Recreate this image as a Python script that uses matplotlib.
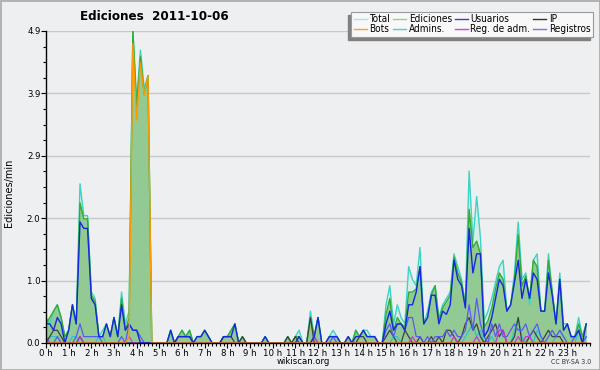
import numpy as np
import matplotlib
matplotlib.use("Agg")
import matplotlib.pyplot as plt
from matplotlib.lines import Line2D
from matplotlib.patches import Rectangle
from matplotlib.ticker import FixedLocator, MultipleLocator

plt.rcParams["font.family"] = ["DejaVu Sans"]
plt.rcParams["font.stretch"] = "condensed"

# edits per minute, 10-minute bins (6 per hour, one row per hour)
total = [
    0.4, 0.3, 0.5, 0.6, 0.4, 0.1,
    0.2, 0.6, 0.3, 2.5, 2.0, 2.0,
    0.8, 0.7, 0.1, 0.2, 0.3, 0.1,
    0.4, 0.1, 0.8, 0.3, 0.5, 4.9,
    3.8, 4.6, 4.0, 4.2, 0.0, 0.0,
    0.0, 0.0, 0.0, 0.2, 0.0, 0.1,
    0.2, 0.1, 0.2, 0.0, 0.1, 0.1,
    0.2, 0.1, 0.0, 0.0, 0.0, 0.1,
    0.1, 0.2, 0.3, 0.0, 0.1, 0.0,
    0.0, 0.0, 0.0, 0.0, 0.1, 0.0,
    0.0, 0.0, 0.0, 0.0, 0.1, 0.0,
    0.1, 0.2, 0.0, 0.0, 0.5, 0.1,
    0.4, 0.0, 0.0, 0.1, 0.2, 0.1,
    0.0, 0.0, 0.1, 0.0, 0.2, 0.1,
    0.2, 0.2, 0.1, 0.1, 0.0, 0.0,
    0.6, 0.9, 0.3, 0.6, 0.4, 0.3,
    1.2, 1.0, 0.9, 1.5, 0.3, 0.5,
    0.8, 0.9, 0.4, 0.6, 0.7, 0.8,
    1.4, 1.2, 1.0, 0.6, 2.7, 1.6,
    2.3, 1.65, 0.35, 0.5, 0.7, 0.95,
    1.2, 1.3, 0.5, 0.6, 1.1, 1.9,
    1.0, 1.1, 0.6, 1.3, 1.4, 0.5,
    0.5, 1.4, 0.8, 0.3, 1.1, 0.3,
    0.3, 0.1, 0.1, 0.4, 0.1, 0.3,
]
ediciones = [
    0.3, 0.4, 0.5, 0.6, 0.4, 0.1,
    0.2, 0.6, 0.3, 2.2, 1.95, 1.95,
    0.75, 0.65, 0.1, 0.1, 0.3, 0.1,
    0.4, 0.1, 0.7, 0.2, 0.4, 4.9,
    3.7, 4.5, 3.9, 4.2, 0.0, 0.0,
    0.0, 0.0, 0.0, 0.2, 0.0, 0.1,
    0.2, 0.1, 0.2, 0.0, 0.1, 0.1,
    0.2, 0.1, 0.0, 0.0, 0.0, 0.1,
    0.1, 0.2, 0.3, 0.0, 0.1, 0.0,
    0.0, 0.0, 0.0, 0.0, 0.1, 0.0,
    0.0, 0.0, 0.0, 0.0, 0.1, 0.0,
    0.1, 0.1, 0.0, 0.0, 0.4, 0.1,
    0.4, 0.0, 0.0, 0.1, 0.1, 0.1,
    0.0, 0.0, 0.1, 0.0, 0.2, 0.1,
    0.2, 0.1, 0.1, 0.1, 0.0, 0.0,
    0.45, 0.7, 0.2, 0.4, 0.3, 0.25,
    0.8, 0.8, 0.85, 1.2, 0.3, 0.4,
    0.75, 0.9, 0.35, 0.55, 0.65, 0.75,
    1.35, 1.1, 0.95, 0.6, 2.1, 1.5,
    1.6, 1.4, 0.25, 0.35, 0.55, 0.85,
    1.1, 1.0, 0.5, 0.6, 1.0, 1.7,
    0.9, 1.05, 0.7, 1.3, 1.2, 0.5,
    0.5, 1.3, 0.8, 0.3, 1.0, 0.2,
    0.3, 0.1, 0.1, 0.3, 0.1, 0.3,
]
usuarios = [
    0.3, 0.3, 0.2, 0.4, 0.3, 0.0,
    0.2, 0.6, 0.3, 1.9, 1.8, 1.8,
    0.7, 0.6, 0.1, 0.1, 0.3, 0.1,
    0.4, 0.1, 0.6, 0.2, 0.3, 0.2,
    0.2, 0.0, 0.0, 0.0, 0.0, 0.0,
    0.0, 0.0, 0.0, 0.2, 0.0, 0.1,
    0.1, 0.1, 0.1, 0.0, 0.1, 0.1,
    0.2, 0.1, 0.0, 0.0, 0.0, 0.1,
    0.1, 0.1, 0.3, 0.0, 0.0, 0.0,
    0.0, 0.0, 0.0, 0.0, 0.1, 0.0,
    0.0, 0.0, 0.0, 0.0, 0.0, 0.0,
    0.0, 0.1, 0.0, 0.0, 0.0, 0.1,
    0.4, 0.0, 0.0, 0.1, 0.1, 0.1,
    0.0, 0.0, 0.1, 0.0, 0.1, 0.1,
    0.2, 0.1, 0.1, 0.1, 0.0, 0.0,
    0.3, 0.5, 0.2, 0.3, 0.3, 0.2,
    0.6, 0.6, 0.8, 1.2, 0.3, 0.4,
    0.75, 0.75, 0.3, 0.5, 0.45, 0.6,
    1.3, 1.0, 0.9, 0.55, 1.8, 1.1,
    1.4, 1.4, 0.1, 0.2, 0.4, 0.7,
    1.0, 0.9, 0.5, 0.6, 0.95, 1.3,
    0.7, 1.0, 0.7, 1.1, 1.0, 0.5,
    0.5, 1.1, 0.75, 0.3, 1.0, 0.2,
    0.3, 0.1, 0.1, 0.2, 0.0, 0.3,
]
ip = [
    0.0, 0.1, 0.2, 0.2, 0.1, 0.0,
    0.0, 0.0, 0.0, 0.1, 0.0, 0.0,
    0.0, 0.0, 0.0, 0.0, 0.0, 0.0,
    0.0, 0.0, 0.0, 0.0, 0.0, 0.0,
    0.0, 0.0, 0.0, 0.0, 0.0, 0.0,
    0.0, 0.0, 0.0, 0.0, 0.0, 0.1,
    0.1, 0.1, 0.1, 0.0, 0.0, 0.0,
    0.0, 0.0, 0.0, 0.0, 0.0, 0.1,
    0.1, 0.1, 0.0, 0.0, 0.1, 0.0,
    0.0, 0.0, 0.0, 0.0, 0.0, 0.0,
    0.0, 0.0, 0.0, 0.0, 0.1, 0.0,
    0.1, 0.0, 0.0, 0.0, 0.4, 0.0,
    0.0, 0.0, 0.0, 0.0, 0.0, 0.0,
    0.0, 0.0, 0.0, 0.0, 0.0, 0.1,
    0.1, 0.0, 0.0, 0.0, 0.0, 0.0,
    0.1, 0.2, 0.1, 0.0, 0.0, 0.2,
    0.1, 0.0, 0.0, 0.1, 0.0, 0.0,
    0.1, 0.0, 0.1, 0.0, 0.2, 0.2,
    0.1, 0.0, 0.1, 0.3, 0.4, 0.2,
    0.3, 0.1, 0.0, 0.1, 0.2, 0.3,
    0.1, 0.2, 0.0, 0.0, 0.1, 0.4,
    0.0, 0.0, 0.1, 0.2, 0.1, 0.0,
    0.1, 0.2, 0.1, 0.1, 0.1, 0.0,
    0.0, 0.0, 0.0, 0.0, 0.0, 0.0,
]
registros = [
    0.1, 0.0, 0.0, 0.1, 0.0, 0.0,
    0.0, 0.0, 0.1, 0.3, 0.1, 0.1,
    0.1, 0.1, 0.1, 0.0, 0.0, 0.0,
    0.0, 0.0, 0.1, 0.0, 0.3, 0.2,
    0.2, 0.1, 0.0, 0.0, 0.0, 0.0,
    0.0, 0.0, 0.0, 0.0, 0.0, 0.0,
    0.0, 0.0, 0.0, 0.0, 0.0, 0.0,
    0.0, 0.0, 0.0, 0.0, 0.0, 0.0,
    0.0, 0.0, 0.0, 0.0, 0.0, 0.0,
    0.0, 0.0, 0.0, 0.0, 0.0, 0.0,
    0.0, 0.0, 0.0, 0.0, 0.0, 0.0,
    0.0, 0.0, 0.0, 0.0, 0.0, 0.1,
    0.0, 0.0, 0.0, 0.0, 0.1, 0.0,
    0.0, 0.0, 0.0, 0.0, 0.0, 0.0,
    0.0, 0.0, 0.0, 0.0, 0.0, 0.0,
    0.2, 0.3, 0.1, 0.3, 0.3, 0.2,
    0.4, 0.4, 0.1, 0.1, 0.0, 0.1,
    0.0, 0.1, 0.1, 0.1, 0.2, 0.1,
    0.2, 0.1, 0.1, 0.2, 0.6, 0.2,
    0.7, 0.3, 0.1, 0.0, 0.3, 0.1,
    0.3, 0.1, 0.1, 0.2, 0.3, 0.2,
    0.2, 0.3, 0.1, 0.2, 0.3, 0.1,
    0.0, 0.1, 0.2, 0.1, 0.2, 0.1,
    0.0, 0.0, 0.1, 0.2, 0.0, 0.1,
]
# sparse series: (bin index, value)
bots_bins = [22, 23, 24, 25, 26, 27]
bots_vals = [0.1, 4.7, 3.5, 4.4, 3.9, 4.2]
admins_bins = [1, 2, 3, 7, 8, 14, 15, 92, 93, 111, 112, 113, 114, 115, 118,
               124, 125, 126, 128, 130, 131, 135, 136, 137, 141, 143]
admins_vals = [0.1, 0.1, 0.1, 0.1, 0.1, 0.1, 0.1, 0.1, 0.1, 0.1, 0.2, 0.3, 0.1,
               0.2, 0.1, 0.2, 0.4, 0.1, 0.1, 0.2, 0.1, 0.1, 0.2, 0.1, 0.2, 0.1]
regadm_bins = [9, 22, 71, 97, 108, 114, 120, 121, 125, 127, 128]
regadm_vals = [0.1, 0.1, 0.1, 0.1, 0.1, 0.1, 0.2, 0.2, 0.1, 0.1, 0.1]

hour_labels = ["%d h" % h for h in range(24)]
y_ticks = [0.0, 0.98, 1.96, 2.94, 3.92, 4.9]

n = len(total)
x = np.arange(n) / 6.0


def sparse(bins, vals):
    a = np.zeros(n)
    a[bins] = vals
    return a


bots = sparse(bots_bins, bots_vals)
admins = sparse(admins_bins, admins_vals)
regadm = sparse(regadm_bins, regadm_vals)

bg = "#eeeff0"
W, H = 600, 370
fig = plt.figure(figsize=(6, 3.7), dpi=100, facecolor=bg)
ax = fig.add_axes([46 / W, 1 - 343 / H, (590 - 46) / W, (343 - 31) / H])
ax.set_facecolor(bg)

ax.fill_between(x, 0, total, color="#d6eee8", lw=0, zorder=1)
ax.fill_between(x, 0, ediciones, color="#93c993", lw=0, zorder=2)
ax.plot(x, total, color="#3dd3c5", lw=1.0, zorder=3)
ax.plot(x, ediciones, color="#35aa35", lw=1.0, zorder=4)
ax.plot(x, admins, color="#2cc4d4", lw=0.9, zorder=5)
ax.plot(x, ip, color="#404040", lw=0.9, zorder=5)
ax.plot(x, registros, color="#5a5af0", lw=0.9, zorder=5)
ax.plot(x, regadm, color="#cc33dd", lw=0.9, zorder=5)
ax.plot(x, usuarios, color="#1428e0", lw=1.0, zorder=6)
ax.plot(x, bots, color="#ff9a00", lw=1.0, zorder=7)

ax.set_xlim(0, 24)
ax.set_ylim(0, 4.9)
ax.xaxis.set_major_locator(FixedLocator(range(24)))
ax.set_xticklabels(hour_labels)
ax.xaxis.set_minor_locator(MultipleLocator(1 / 6))
ax.set_yticks(y_ticks)
ax.set_yticklabels(["%.1f" % v for v in y_ticks])
ax.yaxis.set_minor_locator(MultipleLocator(0.245))
ax.tick_params(axis="both", which="major", labelsize=6.8, length=3.5,
               width=0.8, pad=0.5, color="black")
ax.tick_params(axis="both", which="minor", length=2.2, width=0.8)
ax.grid(axis="y", color="#c8c8c8", lw=1)
ax.set_axisbelow(True)
for s in ["top", "right"]:
    ax.spines[s].set_visible(False)
for s in ["left", "bottom"]:
    ax.spines[s].set_linewidth(1)
    ax.spines[s].set_zorder(10)

fig.text(154 / W, 1 - 16 / H, "Ediciones  2011-10-06", ha="center",
         va="center", fontsize=9.5, weight="bold")
fig.text(9 / W, 1 - 193 / H, "Ediciones/min", rotation=90, ha="center",
         va="center", fontsize=7.8)
fig.text(303 / W, 1 - 362 / H, "wikiscan.org", ha="center", va="center",
         fontsize=6.8)
fig.text(571 / W, 1 - 362 / H, "CC BY-SA 3.0", ha="center", va="center",
         fontsize=5, color="#333333")

names = ["Total", "Bots", "Ediciones", "Admins.", "Usuarios", "Reg. de adm.",
         "IP", "Registros"]
hcols = ["#aae4dc", "#f5a030", "#8ed48e", "#55cccc", "#3c3ccc", "#cc44dd",
         "#333333", "#7777dd"]
handles = [Line2D([], [], color=c, lw=1) for c in hcols]
leg = fig.legend(handles, names, ncol=4, loc="upper right",
                 bbox_to_anchor=(593 / W, 1 - 12 / H), fontsize=7.2,
                 frameon=True, fancybox=False, framealpha=1, borderpad=0.25,
                 handlelength=1.3, handletextpad=0.25, columnspacing=0.3,
                 labelspacing=0.0, borderaxespad=0)
leg.get_frame().set_facecolor("#f8f8f8")
leg.get_frame().set_edgecolor("#999999")
leg.get_frame().set_linewidth(0.8)

fig.canvas.draw()
bb = leg.get_window_extent()
fig.patches.append(Rectangle(((bb.x0 - 3) / W, (bb.y0 - 3) / H),
                             bb.width / W, bb.height / H,
                             transform=fig.transFigure, color="#808080",
                             zorder=4))
fig.patches.append(Rectangle((0.5 / W, 0.5 / H), (W - 1) / W, (H - 1) / H,
                             transform=fig.transFigure, fill=False,
                             edgecolor="#a8a8a8", lw=1.2, zorder=20))

fig.savefig("out.png", dpi=100, facecolor=bg)
